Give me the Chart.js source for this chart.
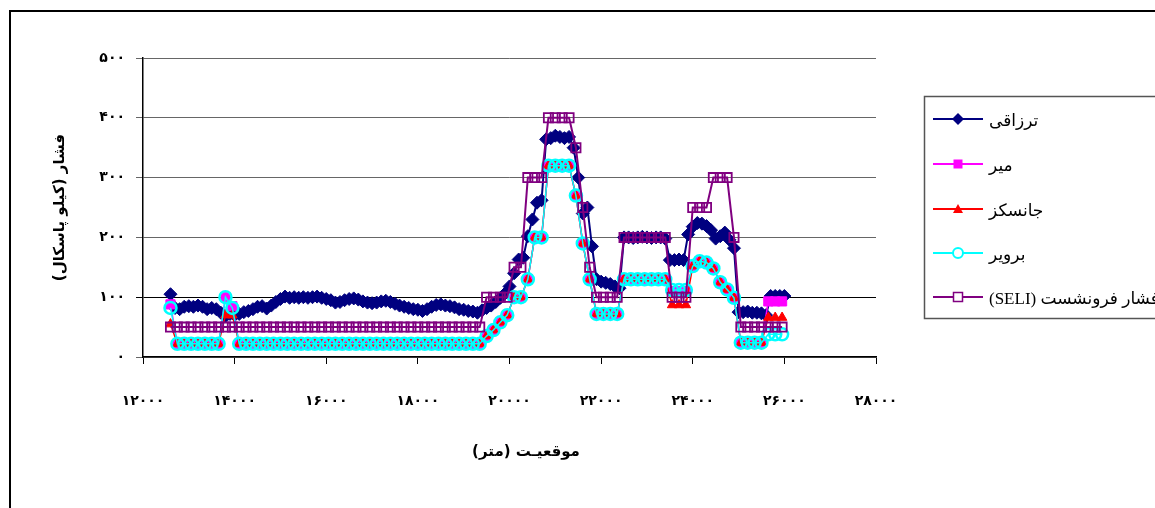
<!DOCTYPE html>
<html>
<head>
<meta charset="utf-8">
<script src="https://cdn.jsdelivr.net/npm/chart.js@4/dist/chart.umd.min.js"></script>
<style>
  html, body { margin: 0; padding: 0; background: #fff; }
  #wrap { position: relative; width: 1155px; height: 508px; }
</style>
</head>
<body>
<div id="wrap"><canvas id="chart"></canvas></div>
<script>
// injection pressure is logged every 100 m
const injectionPos = [
  12600,12700,12800,12900,13000,13100,13200,13300,13400,13500,
  13600,13700,13800,13900,14000,14100,14200,14300,14400,14500,
  14600,14700,14800,14900,15000,15100,15200,15300,15400,15500,
  15600,15700,15800,15900,16000,16100,16200,16300,16400,16500,
  16600,16700,16800,16900,17000,17100,17200,17300,17400,17500,
  17600,17700,17800,17900,18000,18100,18200,18300,18400,18500,
  18600,18700,18800,18900,19000,19100,19200,19300,19400,19500,
  19600,19700,19800,19900,20000,20100,20200,20300,20400,20500,
  20600,20700,20800,20900,21000,21100,21200,21300,21400,21500,
  21600,21700,21800,21900,22000,22100,22200,22300,22400,22500,
  22600,22700,22800,22900,23000,23100,23200,23300,23400,23500,
  23600,23700,23800,23900,24000,24100,24200,24300,24400,24500,
  24600,24700,24800,24900,25000,25100,25200,25300,25400,25500,
  25600,25700,25800,25900,26000
];
const injection = [
  105,82,80,84,85,84,86,84,80,82,
  80,74,68,72,70,72,75,77,80,84,
  85,81,86,92,97,101,99,100,99,100,
  99,100,101,99,97,95,91,92,95,97,
  98,96,93,91,90,91,93,94,92,89,
  86,84,82,80,79,77,80,84,87,88,
  86,85,83,80,79,77,76,74,78,82,
  86,92,99,106,118,140,163,166,202,230,
  258,262,364,366,370,368,366,368,350,300,
  240,250,185,130,126,124,122,118,115,200,
  200,199,200,201,200,199,200,200,198,162,
  162,163,162,205,218,224,223,219,212,198,
  202,208,196,182,75,75,76,74,74,73,
  70,102,102,102,102
];

// the calculated pressures are given every 150 m
const calcPos = [
  12600,12750,12900,13050,13200,13350,13500,13650,13800,13950,
  14100,14250,14400,14550,14700,14850,15000,15150,15300,15450,
  15600,15750,15900,16050,16200,16350,16500,16650,16800,16950,
  17100,17250,17400,17550,17700,17850,18000,18150,18300,18450,
  18600,18750,18900,19050,19200,19350,19500,19650,19800,19950,
  20100,20250,20400,20550,20700,20850,21000,21150,21300,21450,
  21600,21750,21900,22050,22200,22350,22500,22650,22800,22950,
  23100,23250,23400,23550,23700,23850,24000,24150,24300,24450,
  24600,24750,24900,25050,25200,25350,25500,25650,25800,25950
];
const mir = [
  88,22,22,22,22,22,22,22,100,85,
  22,22,22,22,22,22,22,22,22,22,
  22,22,22,22,22,22,22,22,22,22,
  22,22,22,22,22,22,22,22,22,22,
  22,22,22,22,22,22,35,45,58,70,
  100,100,130,200,200,320,320,320,320,270,
  190,130,72,72,72,72,130,130,130,130,
  130,130,130,110,110,110,152,160,158,148,
  125,113,99,24,24,24,24,93,93,93
];
const janssen = [
  55,22,22,22,22,22,22,22,70,70,
  22,22,22,22,22,22,22,22,22,22,
  22,22,22,22,22,22,22,22,22,22,
  22,22,22,22,22,22,22,22,22,22,
  22,22,22,22,22,22,35,45,58,70,
  100,100,130,200,200,320,320,320,320,270,
  190,130,72,72,72,72,130,130,130,130,
  130,130,130,87,87,87,152,160,158,148,
  125,113,99,24,24,24,24,66,66,66
];
const brewer = [
  82,22,22,22,22,22,22,22,100,82,
  22,22,22,22,22,22,22,22,22,22,
  22,22,22,22,22,22,22,22,22,22,
  22,22,22,22,22,22,22,22,22,22,
  22,22,22,22,22,22,35,45,58,70,
  100,100,130,200,200,320,320,320,320,270,
  190,130,72,72,72,72,130,130,130,130,
  130,130,130,112,112,112,152,160,158,148,
  125,113,99,24,24,24,24,38,38,38
];
const seli = [
  50,50,50,50,50,50,50,50,50,50,
  50,50,50,50,50,50,50,50,50,50,
  50,50,50,50,50,50,50,50,50,50,
  50,50,50,50,50,50,50,50,50,50,
  50,50,50,50,50,50,100,100,100,100,
  150,150,300,300,300,400,400,400,400,350,
  250,150,100,100,100,100,200,200,200,200,
  200,200,200,100,100,100,250,250,250,300,
  300,300,200,50,50,50,50,50,50,50
];

const xTicks = [12000, 14000, 16000, 18000, 20000, 22000, 24000, 26000, 28000];
const yTicks = [0, 100, 200, 300, 400, 500];

const faDigits = '۰۱۲۳۴۵۶۷۸۹';
const toFa = v => String(v).replace(/\d/g, d => faDigits[d]);

const points = (xs, ys) => xs.map((x, i) => ({ x, y: ys[i] }));

const series = [
  { label: 'ترزاقی', xs: injectionPos, ys: injection, color: '#000080', marker: 'diamond', order: 5 },
  { label: 'میر', xs: calcPos, ys: mir, color: '#FF00FF', marker: 'square', order: 4 },
  { label: 'جانسکز', xs: calcPos, ys: janssen, color: '#FF0000', marker: 'triangle', order: 3 },
  { label: 'برویر', xs: calcPos, ys: brewer, color: '#00FFFF', marker: 'circle', order: 2 },
  { label: 'فشار فرونشست (SELI)', xs: calcPos, ys: seli, color: '#800080', marker: 'box', order: 1 }
];

function datasetFor(s) {
  const base = {
    label: s.label,
    data: points(s.xs, s.ys),
    borderColor: s.color,
    borderWidth: 1.5,
    order: s.order,
    pointBorderColor: s.color,
    pointBackgroundColor: s.color,
    pointBorderWidth: 1,
    tension: 0
  };
  if (s.marker === 'diamond') Object.assign(base, { borderWidth: 2, pointStyle: 'rectRot', pointRadius: 6.5 });
  if (s.marker === 'square') Object.assign(base, { pointStyle: 'rect', pointRadius: 6.5 });
  if (s.marker === 'triangle') Object.assign(base, { pointStyle: 'triangle', pointRadius: 5.5 });
  if (s.marker === 'circle') Object.assign(base, { pointStyle: 'circle', pointRadius: 6, pointBorderWidth: 2.5, pointBackgroundColor: 'rgba(0,0,0,0)' });
  if (s.marker === 'box') Object.assign(base, { borderWidth: 2, pointStyle: 'rect', pointRadius: 6.5, pointBorderWidth: 1.8, pointBackgroundColor: 'rgba(0,0,0,0)' });
  return base;
}

// small marker for the legend rows
function drawMarker(ctx, kind, color, x, y) {
  ctx.save();
  ctx.strokeStyle = color;
  ctx.fillStyle = color;
  ctx.lineWidth = 1.5;
  ctx.beginPath();
  if (kind === 'diamond') {
    ctx.moveTo(x, y - 6); ctx.lineTo(x + 6, y); ctx.lineTo(x, y + 6); ctx.lineTo(x - 6, y); ctx.closePath();
    ctx.fill();
  } else if (kind === 'square') {
    ctx.rect(x - 4.5, y - 4.5, 9, 9); ctx.fill();
  } else if (kind === 'triangle') {
    ctx.moveTo(x, y - 5); ctx.lineTo(x + 5, y + 4); ctx.lineTo(x - 5, y + 4); ctx.closePath(); ctx.fill();
  } else if (kind === 'circle') {
    ctx.arc(x, y, 5, 0, Math.PI * 2);
    ctx.fillStyle = '#fff'; ctx.fill(); ctx.lineWidth = 2; ctx.stroke();
  } else if (kind === 'box') {
    ctx.rect(x - 4.5, y - 4.5, 9, 9);
    ctx.fillStyle = '#fff'; ctx.fill(); ctx.stroke();
  }
  ctx.restore();
}

const decor = {
  id: 'decor',
  beforeDraw(chart) {
    const ctx = chart.ctx;
    ctx.save();
    ctx.fillStyle = '#fff';
    ctx.fillRect(0, 0, chart.width, chart.height);
    // outer frame
    ctx.strokeStyle = '#000';
    ctx.lineWidth = 2;
    ctx.beginPath();
    ctx.moveTo(10, chart.height);
    ctx.lineTo(10, 11);
    ctx.lineTo(chart.width, 11);
    ctx.stroke();
    ctx.restore();
  },
  afterDraw(chart) {
    const ctx = chart.ctx;
    const area = chart.chartArea;
    ctx.save();

    // axis titles
    ctx.fillStyle = '#000';
    ctx.direction = 'rtl';
    ctx.textAlign = 'center';
    ctx.textBaseline = 'middle';
    ctx.font = 'bold 15px "DejaVu Sans", sans-serif';
    ctx.fillText('موقعیـت (متر)', 526, 452);
    ctx.save();
    ctx.translate(60, (area.top + area.bottom) / 2);
    ctx.rotate(-Math.PI / 2);
    ctx.fillText('فشار (کیلو پاسکال)', 0, 0);
    ctx.restore();

    // legend box
    ctx.strokeStyle = '#555';
    ctx.lineWidth = 1.5;
    ctx.strokeRect(924.5, 96.5, 260, 222);
    const rowY = [119, 164, 209, 253, 297];
    series.forEach((s, i) => {
      const y = rowY[i];
      ctx.strokeStyle = s.color;
      ctx.lineWidth = 2;
      ctx.beginPath();
      ctx.moveTo(933, y);
      ctx.lineTo(983, y);
      ctx.stroke();
      drawMarker(ctx, s.marker, s.color, 958, y);
      ctx.fillStyle = '#000';
      ctx.font = '17px "Liberation Serif", "DejaVu Sans", serif';
      ctx.direction = 'rtl';
      ctx.textAlign = 'left';
      ctx.textBaseline = 'middle';
      ctx.fillText(s.label, 989, y + 3);
    });
    ctx.restore();
  }
};

const tickFont = { family: '"DejaVu Sans", sans-serif', size: 14, weight: 'bold' };

new Chart(document.getElementById('chart'), {
  type: 'line',
  data: { datasets: series.map(datasetFor) },
  options: {
    responsive: true,
    maintainAspectRatio: false,
    animation: false,
    layout: { padding: { left: 0, top: 58, right: 279, bottom: 0 } },
    plugins: { legend: { display: false }, tooltip: { enabled: false } },
    scales: {
      x: {
        type: 'linear',
        min: 12000,
        max: 28000,
        afterFit: s => { s.height = 151; },
        afterBuildTicks: s => { s.ticks = xTicks.map(v => ({ value: v })); },
        ticks: { callback: v => toFa(v), color: '#000', font: tickFont, padding: 29, maxRotation: 0, autoSkip: false },
        grid: { drawOnChartArea: false, drawTicks: true, tickLength: 7, color: '#000', lineWidth: 1 },
        border: { display: true, color: '#000', width: 1.5 }
      },
      y: {
        min: 0,
        max: 500,
        afterFit: s => { s.width = 143; },
        afterBuildTicks: s => { s.ticks = yTicks.map(v => ({ value: v })); },
        ticks: { callback: v => toFa(v), color: '#000', font: tickFont, padding: 11 },
        grid: { color: c => (c.tick && c.tick.value === 100 ? '#000' : '#666'), tickLength: 7, lineWidth: 1 },
        border: { display: true, color: '#000', width: 1.5 }
      }
    }
  },
  plugins: [decor]
});
</script>
</body>
</html>
